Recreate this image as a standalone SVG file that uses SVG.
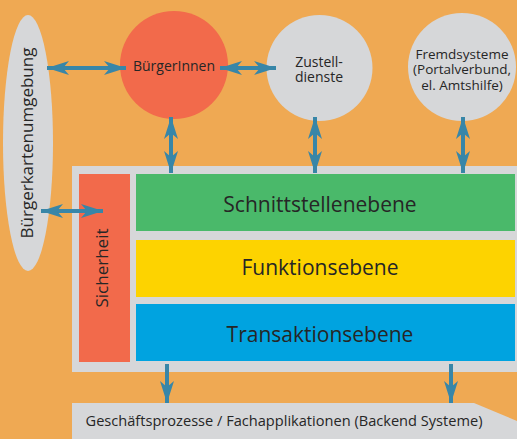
<svg xmlns="http://www.w3.org/2000/svg" width="517" height="439" viewBox="0 0 517 439">
<style>
text{font-family:"Open Sans","DejaVu Sans",sans-serif;fill:#262626;text-anchor:middle}
.ar{stroke:#3886A8;stroke-width:4;fill:none}
.gray{fill:#D6D7D9}
</style>
<defs>
<marker id="h" markerUnits="userSpaceOnUse" markerWidth="26" markerHeight="16" viewBox="-22 -8 24 16" refX="0" refY="0" orient="auto-start-reverse">
<path d="M0,0 L-22,-7 L-16,0 L-22,7 Z" fill="#3886A8"/>
</marker>
</defs>
<rect width="517" height="439" fill="#EFA953"/>
<g id="buergerkarte">
<ellipse class="gray" cx="28" cy="143" rx="25" ry="128"/>
<text transform="translate(33,143) rotate(-90)" font-size="17">Bürgerkartenumgebung</text>
</g>
<g id="buergerinnen">
<circle cx="174" cy="65" r="54" fill="#F26A4B"/>
<text x="174" y="71" font-size="14">BürgerInnen</text>
</g>
<g id="zustelldienste">
<circle cx="319.5" cy="68" r="53" class="gray"/>
<text font-size="14"><tspan x="319" y="67">Zustell-</tspan><tspan x="319" y="82">dienste</tspan></text>
</g>
<g id="fremdsysteme">
<circle cx="462" cy="67" r="54" class="gray"/>
<text font-size="13.5"><tspan x="462" y="59">Fremdsysteme</tspan><tspan x="462" y="74">(Portalverbund,</tspan><tspan x="462" y="90">el. Amtshilfe)</tspan></text>
</g>
<g id="plattform">
<rect class="gray" x="72" y="166" width="450" height="206"/>
</g>
<g id="sicherheit">
<rect x="79" y="174" width="51" height="188" fill="#F26A4B"/>
<text transform="translate(108,268) rotate(-90)" font-size="17">Sicherheit</text>
</g>
<g id="schnittstellenebene">
<rect x="136" y="174" width="379" height="57" fill="#4AB96A"/>
<text x="320" y="212" font-size="21">Schnittstellenebene</text>
</g>
<g id="funktionsebene">
<rect x="136" y="240" width="379" height="57" fill="#FDD300"/>
<text x="320" y="275" font-size="21">Funktionsebene</text>
</g>
<g id="transaktionsebene">
<rect x="136" y="304" width="379" height="57" fill="#00A3E0"/>
<text x="320" y="342" font-size="21">Transaktionsebene</text>
</g>
<g id="backend">
<polygon class="gray" points="72,403 474,403 570,443 72,443"/>
<text x="284" y="426" font-size="14.6">Geschäftsprozesse / Fachapplikationen (Backend Systeme)</text>
</g>
<g id="connectors">
<line class="ar" x1="47" y1="68" x2="126" y2="68" marker-start="url(#h)" marker-end="url(#h)"/>
<line class="ar" x1="220" y1="68" x2="276" y2="68" marker-start="url(#h)" marker-end="url(#h)"/>
<line class="ar" x1="41" y1="211" x2="103" y2="211" marker-start="url(#h)" marker-end="url(#h)"/>
<line class="ar" x1="171" y1="117" x2="171" y2="173" marker-start="url(#h)" marker-end="url(#h)"/>
<line class="ar" x1="315" y1="117" x2="315" y2="173" marker-start="url(#h)" marker-end="url(#h)"/>
<line class="ar" x1="463" y1="117" x2="463" y2="173" marker-start="url(#h)" marker-end="url(#h)"/>
<line class="ar" x1="167" y1="364" x2="167" y2="403" marker-end="url(#h)"/>
<line class="ar" x1="451" y1="364" x2="451" y2="403" marker-end="url(#h)"/>
</g>
</svg>
